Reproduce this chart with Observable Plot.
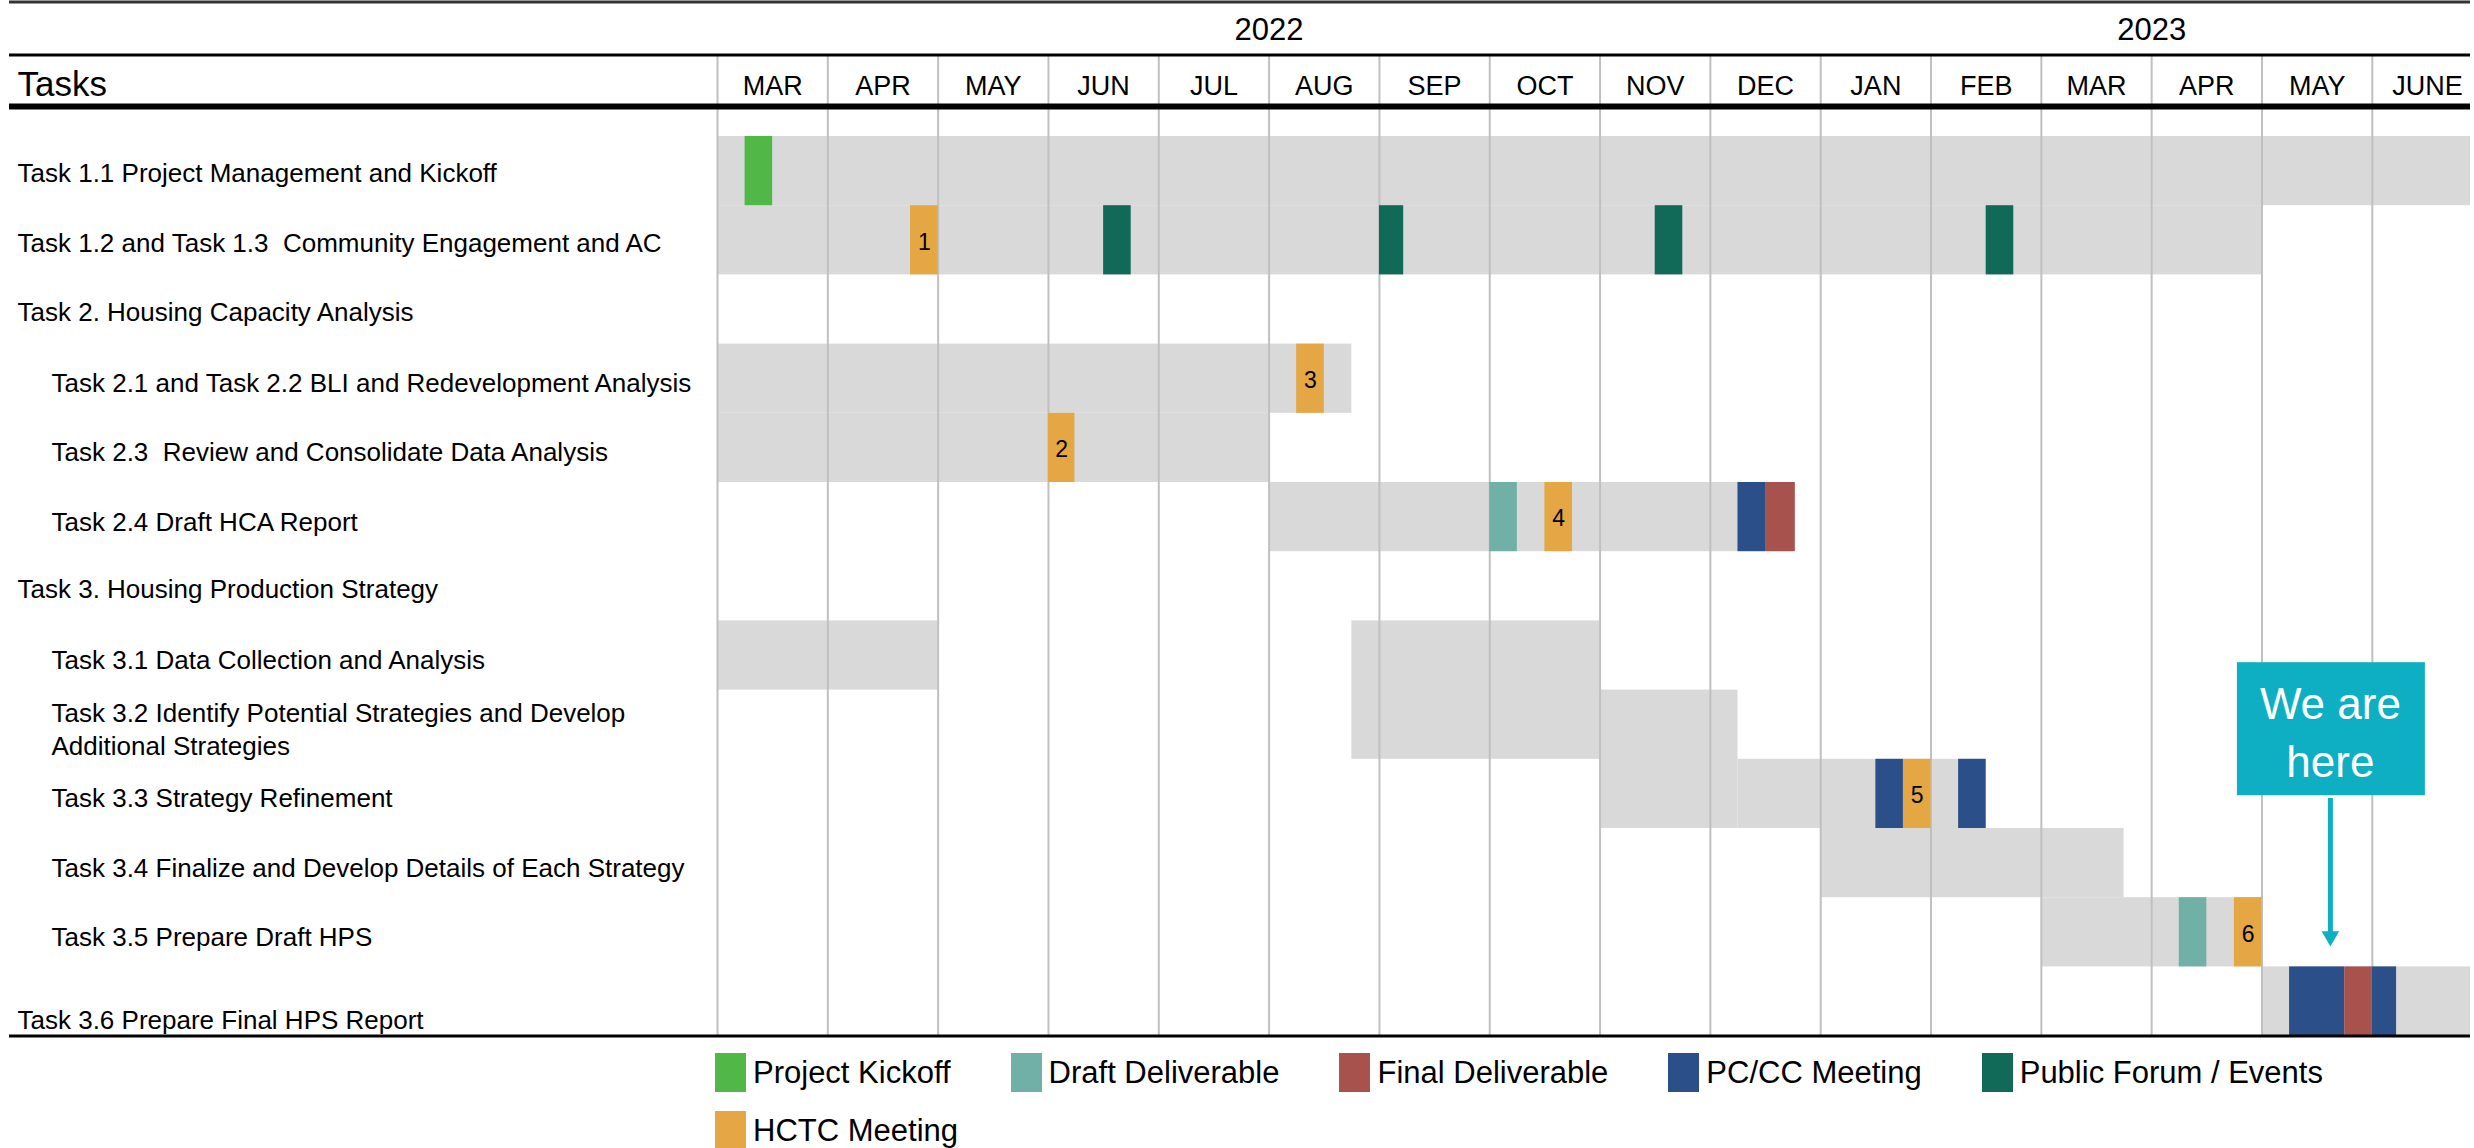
<!DOCTYPE html>
<html><head><meta charset="utf-8">
<script src="https://cdn.jsdelivr.net/npm/d3@7"></script>
<script src="https://cdn.jsdelivr.net/npm/@observablehq/plot@0.6"></script>
<style>
html,body{margin:0;padding:0;background:#fff;overflow:hidden;}
#chart svg{display:block;}
#chart svg text{white-space:pre;}
.legend{display:flex;flex-wrap:wrap;margin:13px 0 0 715px;row-gap:19px;column-gap:60px;font:31px "Liberation Sans",Arial,sans-serif;color:#000;width:1755px;}
.item{display:flex;align-items:center;height:39px;white-space:nowrap;}
.sw{width:31px;height:39px;margin-right:7px;flex:none;}
</style></head><body>
<div id="chart"></div>
<div id="legend" class="legend"></div>
<script>
// ---------------- data ----------------
const months = ["MAR","APR","MAY","JUN","JUL","AUG","SEP","OCT","NOV","DEC","JAN","FEB","MAR","APR","MAY","JUNE"];
const years = [
  {year: "2022", from: 0, to: 10},
  {year: "2023", from: 10, to: 16}
];
const taskIds = ["1.1","1.2","2","2.1","2.3","2.4","3","3.1","3.2","3.3","3.4","3.5","3.6"];
const taskLabels = [
  "Task 1.1 Project Management and Kickoff",
  "Task 1.2 and Task 1.3  Community Engagement and AC",
  "Task 2. Housing Capacity Analysis",
  "Task 2.1 and Task 2.2 BLI and Redevelopment Analysis",
  "Task 2.3  Review and Consolidate Data Analysis",
  "Task 2.4 Draft HCA Report",
  "Task 3. Housing Production Strategy",
  "Task 3.1 Data Collection and Analysis",
  "Task 3.2 Identify Potential Strategies and Develop\nAdditional Strategies",
  "Task 3.3 Strategy Refinement",
  "Task 3.4 Finalize and Develop Details of Each Strategy",
  "Task 3.5 Prepare Draft HPS",
  "Task 3.6 Prepare Final HPS Report"
];
const taskLevels = [0,0,0,1,1,1,0,1,1,1,1,1,0];

// gray activity bars: months since March 2022, rows = number of task rows covered
const bars = [
  {task: "1.1", start: 0,    end: 16,   rows: 1},
  {task: "1.2", start: 0,    end: 14,   rows: 1},
  {task: "2.1", start: 0,    end: 5.75, rows: 1},
  {task: "2.3", start: 0,    end: 5,    rows: 1},
  {task: "2.4", start: 5,    end: 9.75, rows: 1},
  {task: "3.1", start: 0,    end: 2,    rows: 1},
  {task: "3.1", start: 5.75, end: 8,    rows: 2},
  {task: "3.2", start: 8,    end: 9.25, rows: 2},
  {task: "3.3", start: 9.25, end: 11.5, rows: 1},
  {task: "3.4", start: 10,   end: 12.75,rows: 1},
  {task: "3.5", start: 12,   end: 14,   rows: 1},
  {task: "3.6", start: 14,   end: 16,   rows: 1}
];

const types = ["Project Kickoff","Draft Deliverable","Final Deliverable","PC/CC Meeting","Public Forum / Events","HCTC Meeting"];
const typeColors = ["#51b848","#70b0a6","#a8524e","#2b4f89","#116957","#e4a744"];

const milestones = [
  {task: "1.1", type: "Project Kickoff",       start: 0.25,  end: 0.5},
  {task: "1.2", type: "HCTC Meeting",          start: 1.75,  end: 2,     label: "1"},
  {task: "1.2", type: "Public Forum / Events", start: 3.5,   end: 3.75},
  {task: "1.2", type: "Public Forum / Events", start: 6,     end: 6.22},
  {task: "1.2", type: "Public Forum / Events", start: 8.5,   end: 8.75},
  {task: "1.2", type: "Public Forum / Events", start: 11.5,  end: 11.75},
  {task: "2.1", type: "HCTC Meeting",          start: 5.25,  end: 5.5,   label: "3"},
  {task: "2.3", type: "HCTC Meeting",          start: 3,     end: 3.24,  label: "2"},
  {task: "2.4", type: "Draft Deliverable",     start: 7,     end: 7.25},
  {task: "2.4", type: "HCTC Meeting",          start: 7.5,   end: 7.75,  label: "4"},
  {task: "2.4", type: "PC/CC Meeting",         start: 9.25,  end: 9.5},
  {task: "2.4", type: "Final Deliverable",     start: 9.5,   end: 9.77},
  {task: "3.3", type: "PC/CC Meeting",         start: 10.5,  end: 10.75},
  {task: "3.3", type: "HCTC Meeting",          start: 10.75, end: 11,    label: "5"},
  {task: "3.3", type: "PC/CC Meeting",         start: 11.25, end: 11.5},
  {task: "3.5", type: "Draft Deliverable",     start: 13.25, end: 13.5},
  {task: "3.5", type: "HCTC Meeting",          start: 13.75, end: 14,    label: "6"},
  {task: "3.6", type: "PC/CC Meeting",         start: 14.25, end: 14.75},
  {task: "3.6", type: "Final Deliverable",     start: 14.75, end: 15},
  {task: "3.6", type: "PC/CC Meeting",         start: 15,    end: 15.22}
];

const callout = [{text: "We are\nhere", month: 14.62}];

// ---------------- layout ----------------
const FONT = '"Liberation Sans", Arial, sans-serif';
const X_END = 15.89;          // visible end of the timeline
const rowOf = new Map(taskIds.map((id, i) => [id, i]));
const tasks = taskIds.map((id, i) => ({id, label: taskLabels[i], level: taskLevels[i], row: i}));
const lastId = taskIds[taskIds.length - 1];
const CALLOUT_COLOR = "#0eafc2";

const chart = Plot.plot({
  width: 2474,
  height: 1040,
  marginLeft: 717,
  marginRight: 4,
  marginTop: 136,
  marginBottom: 4.4,
  x: {domain: [0, X_END], axis: null},
  y: {domain: [-0.5, taskIds.length - 0.5], reverse: true, axis: null},
  color: {domain: types, range: typeColors},
  style: {fontFamily: FONT, background: "#fff", color: "#000", overflow: "visible"},
  marks: [
    Plot.rect(bars, {
      x1: "start", x2: "end",
      y1: d => rowOf.get(d.task) - 0.5,
      y2: d => rowOf.get(d.task) + d.rows - 0.5,
      fill: "#d9d9d9", clip: true
    }),
    Plot.ruleX(d3.range(months.length), {stroke: "#c0c0c0", strokeWidth: 2, insetTop: -80}),
    Plot.rect(milestones, {
      x1: "start", x2: "end",
      y1: d => rowOf.get(d.task) - 0.5,
      y2: d => rowOf.get(d.task) + 0.5,
      fill: "type"
    }),
    Plot.text(milestones.filter(d => d.label), {
      x: d => (d.start + d.end) / 2, y: d => rowOf.get(d.task),
      text: "label", fontSize: 23, fill: "#000", dy: 2
    }),
    // header and footer rules
    Plot.ruleY([-0.5], {dy: -134.5, stroke: "#333", strokeWidth: 3, insetLeft: -708}),
    Plot.ruleY([-0.5], {dy: -81.5, stroke: "#000", strokeWidth: 3, insetLeft: -708}),
    Plot.ruleY([-0.5], {dy: -30, stroke: "#000", strokeWidth: 6, insetLeft: -708}),
    Plot.ruleY([taskIds.length - 0.5], {stroke: "#000", strokeWidth: 3, insetLeft: -708}),
    // month axis
    Plot.axisX({
      anchor: "top",
      ticks: months.map((m, i) => i + 0.5),
      tickFormat: d => months[Math.floor(d)],
      tickSize: 0, tickPadding: 42, fontSize: 27, label: null
    }),
    // years
    Plot.text(years, {
      x: d => (d.from + d.to) / 2, text: "year",
      frameAnchor: "top", dy: -97, lineAnchor: "bottom", fontSize: 31
    }),
    Plot.text(["Tasks"], {
      text: d => d, frameAnchor: "top-left", dx: -700, dy: -41,
      lineAnchor: "bottom", textAnchor: "start", fontSize: 35
    }),
    // task labels
    Plot.text(tasks.filter(d => d.level === 0 && d.id !== lastId), {
      y: "row", text: "label", frameAnchor: "left", dx: -700, dy: 3,
      textAnchor: "start", fontSize: 26
    }),
    Plot.text(tasks.filter(d => d.level === 1), {
      y: "row", text: "label", frameAnchor: "left", dx: -666, dy: 3,
      textAnchor: "start", fontSize: 26, lineHeight: 1.27
    }),
    Plot.text(tasks.filter(d => d.id === lastId), {
      y: "row", text: "label", frameAnchor: "left", dx: -700, dy: 19,
      textAnchor: "start", fontSize: 26
    }),
    // "We are here" callout
    Plot.rect(callout, {
      x1: "month", x2: "month", y1: () => rowOf.get("3.2"), y2: () => rowOf.get("3.2"),
      insetLeft: -93, insetRight: -95, insetTop: -62, insetBottom: -71,
      fill: CALLOUT_COLOR
    }),
    Plot.text(callout, {
      x: "month", y: () => rowOf.get("3.2"), text: "text",
      fill: "#fff", fontSize: 44, lineHeight: 1.3, dy: 5
    }),
    Plot.ruleX(callout, {
      x: "month", y1: () => rowOf.get("3.3"), y2: () => rowOf.get("3.5"),
      insetTop: 4.6, insetBottom: -3, stroke: CALLOUT_COLOR, strokeWidth: 5
    }),
    Plot.dot(callout, {
      x: "month", y: () => rowOf.get("3.5"), symbol: "triangle", rotate: 180,
      r: 6.5, fill: CALLOUT_COLOR, stroke: "none", dy: 4
    })
  ]
});
document.getElementById("chart").appendChild(chart);

// legend (HTML, below the SVG), colours from the chart's color scale
const legend = document.getElementById("legend");
const colorScale = chart.scale("color");
types.forEach((t, i) => {
  const item = document.createElement("div");
  item.className = "item";
  const sw = document.createElement("div");
  sw.className = "sw";
  sw.style.background = colorScale.range[i];
  const lab = document.createElement("span");
  lab.textContent = t;
  item.appendChild(sw);
  item.appendChild(lab);
  legend.appendChild(item);
});
</script>
</body></html>
